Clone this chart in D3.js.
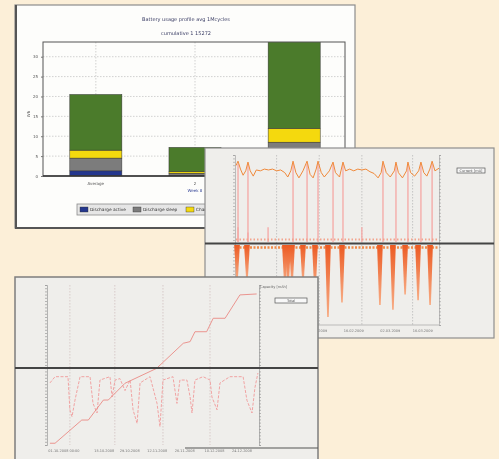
<!DOCTYPE html>
<html>
<head>
<meta charset="utf-8">
<script src="https://cdn.jsdelivr.net/npm/d3@7"></script>
<style>
  body { margin: 0; background: #fcefd8; }
  svg { display: block; filter: blur(0.4px); }
  text { font-family: "DejaVu Sans", sans-serif; }
</style>
</head>
<body>
<div id="chart"></div>
<script>
// ---- Bar chart data (Wh per category)
var barCats = ["Average", "2", "3"];
var barSub = ["", "Week 8", ""];
var seriesNames = ["Discharge active", "Discharge sleep", "Charge", "Idle"];
var seriesColors = ["#24378e", "#7c7c7c", "#f4d90e", "#4b7b2b"];
var dischargeActive = [1.3, 0.1, 1.5];
var dischargeSleep = [3.2, 0.6, 7.0];
var charge = [2.0, 0.4, 3.5];
var idle = [14.0, 6.1, 22.0];
var barTicks = [0, 5, 10, 15, 20, 25, 30];

// ---- Current trace (panel 2), x in % of time span
var upperTopLine = [[0,88],[1,93],[2.2,84],[3.5,77],[4.8,82],[5.9,92],[7,82],[8.5,76],[10,83],[12,82],[14,84],[16,83],
  [18,84],[20,82],[22,83],[24,80],[25.5,75],[27,82],[28.1,93],[29.5,80],[31,74],[33,82],[35,93],[36.5,78],[38,74],
  [39.5,84],[40.4,93],[42,80],[43.5,75],[46,82],[47.8,92],[49,80],[51,75],[52.7,92],[54,82],[56,84],[58,82],[60,84],
  [62,83],[64,84],[66,81],[68,79],[70,74],[71.5,80],[72.4,93],[74,80],[76,75],[78,82],[78.8,92],[80,80],[82,74],
  [84,82],[84.7,92],[86,80],[88,76],[90,82],[91.1,92],[92.5,80],[94,76],[95.5,84],[96.6,93],[98,82],[100,85]];
var upperSpikeX = [1, 5.9, 28.1, 35, 40.4, 47.8, 52.7, 72.4, 78.8, 84.7, 91.1, 96.6];
var upperBumps = [[1, 18], [5.9, 12], [15.8, 18], [62, 18]];
var lowerSpikeX = [0.5, 5.4, 24.1, 25.6, 27.6, 33, 38.9, 45.3, 52.2, 70.9, 77.3, 83.3, 89.7, 95.6];
var lowerSpikeDepth = [44, 44, 50, 52, 48, 46, 56, 90, 72, 75, 81, 62, 69, 75];
var grid2 = [20, 41, 62, 87];
var dates2 = ["05.01.2009", "19.01.2009", "02.02.2009", "16.02.2009", "02.03.2009", "16.03.2009"];
var datePos2 = [5, 22, 40, 58, 76, 92];

// ---- Cumulative trace (panel 3)
var cumulative = [[1.4,1.1],[3.8,1.1],[16.4,15.6],[19.5,15.6],[26.6,28.1],[28.9,28.1],[36.8,38.6],[51.7,47.9],
  [64.3,63.6],[67.5,64.6],[69.8,70.8],[75.3,70.8],[78.4,79.2],[84,79.2],[91,93.8],[98.9,94.4]];
var levelTrace = [[1.4,38.8],[3.8,42.7],[9.9,42.7],[10.8,21.9],[11.8,17.7],[13.2,28],[15.6,42.7],[20.3,42.7],
  [21.7,26],[23.6,20],[25,40.6],[29.7,42.7],[30.7,30],[32.1,40.6],[34.4,41.5],[36.8,34],[39.2,40.6],[40.6,21.9],
  [42.5,13.5],[43.9,38.8],[48.6,42.7],[51.9,26],[53.3,11.5],[54.7,40.6],[59.4,42.7],[61.3,26],[62.7,40.6],
  [66,40.6],[67.5,30],[68.4,20],[69.8,40.6],[73.6,42.7],[76.9,40.6],[77.8,30],[80.2,22],[81.6,38.8],[86.3,42.7],
  [92.5,42.7],[94.3,28],[96.7,20],[98.1,36],[99.5,45]];
var grid3 = [10.8, 32, 54.7, 76.9];
var dates3 = ["01.10.2008 00:00", "15.10.2008", "29.10.2008", "12.11.2008", "26.11.2008", "10.12.2008", "24.12.2008"];
var datePos3 = [8, 27, 39, 52, 65, 79, 92];

var svg = d3.select('#chart')
  .append('svg')
  .attr('width', 499)
  .attr('height', 459);

svg.append('rect')
  .attr('width', 499)
  .attr('height', 459)
  .attr('fill', '#fcefd8');

// ================= Panel 1: stacked bars
var p1 = svg.append('g');
p1.append('rect')
  .attr('x', 15).attr('y', 5).attr('width', 340).attr('height', 223)
  .attr('fill', '#fdfdfb').attr('stroke', '#8c8c8c').attr('stroke-width', 1.2);
p1.append('path')
  .attr('d', 'M16,5V228H355')
  .attr('fill', 'none').attr('stroke', '#555').attr('stroke-width', 2);

p1.append('text').attr('x', 186).attr('y', 21).attr('text-anchor', 'middle')
  .style('font-size', '5px').attr('fill', '#3c3f66')
  .text('Battery usage profile avg 1Mcycles');
p1.append('text').attr('x', 186).attr('y', 35).attr('text-anchor', 'middle')
  .style('font-size', '5px').attr('fill', '#3c3f66')
  .text('cumulative 1 15272');

var xBar = d3.scaleBand().domain(barCats).range([46, 344]).paddingInner(0.475).paddingOuter(0.24);
var yBar = d3.scaleLinear().domain([0, 33.7]).range([176, 42]);

// grid
p1.selectAll('.hgrid')
  .data(barTicks.slice(1))
  .enter().append('line')
  .attr('x1', 43).attr('x2', 345)
  .attr('y1', (d) => yBar(d)).attr('y2', (d) => yBar(d))
  .attr('stroke', '#b5b5b5').attr('stroke-width', 0.6).attr('stroke-dasharray', '1.5,1.5');
p1.selectAll('.vgrid')
  .data(barCats)
  .enter().append('line')
  .attr('x1', (d) => xBar(d) + xBar.bandwidth() / 2).attr('x2', (d) => xBar(d) + xBar.bandwidth() / 2)
  .attr('y1', 42).attr('y2', 176)
  .attr('stroke', '#b5b5b5').attr('stroke-width', 0.6).attr('stroke-dasharray', '1.5,1.5');

var table = barCats.map((c, i) => ({
  cat: c, "Discharge active": dischargeActive[i], "Discharge sleep": dischargeSleep[i],
  "Charge": charge[i], "Idle": idle[i]
}));
var stacked = d3.stack().keys(seriesNames)(table);

svg.append('clipPath').attr('id', 'barclip')
  .append('rect').attr('x', 43).attr('y', 42).attr('width', 302).attr('height', 134);

p1.append('g').attr('clip-path', 'url(#barclip)')
  .selectAll('g')
  .data(stacked)
  .enter().append('g')
  .attr('fill', (d, i) => seriesColors[i])
  .selectAll('rect')
  .data((d) => d)
  .enter().append('rect')
  .attr('x', (d) => xBar(d.data.cat))
  .attr('width', xBar.bandwidth())
  .attr('y', (d) => yBar(d[1]))
  .attr('height', (d) => yBar(d[0]) - yBar(d[1]))
  .attr('stroke', '#333').attr('stroke-width', 0.5);

p1.append('rect')
  .attr('x', 43).attr('y', 42).attr('width', 302).attr('height', 134)
  .attr('fill', 'none').attr('stroke', '#555').attr('stroke-width', 1);
p1.append('line').attr('x1', 43).attr('x2', 345).attr('y1', 176).attr('y2', 176)
  .attr('stroke', '#333').attr('stroke-width', 1.4);

var yAxisBar = p1.append('g')
  .attr('transform', 'translate(43,0)')
  .call(d3.axisLeft(yBar).tickValues(barTicks).tickSize(2).tickPadding(3));
yAxisBar.select('.domain').remove();
yAxisBar.selectAll('text').style('font-size', '4px').attr('fill', '#555');
yAxisBar.selectAll('line').attr('stroke', '#777');

p1.append('text')
  .attr('transform', 'translate(30,114) rotate(-90)')
  .attr('text-anchor', 'middle').style('font-size', '4px').attr('fill', '#555')
  .text('Wh');

p1.selectAll('.xlab')
  .data(barCats)
  .enter().append('text')
  .attr('x', (d) => xBar(d) + xBar.bandwidth() / 2)
  .attr('y', 185)
  .attr('text-anchor', 'middle').style('font-size', '4px').attr('fill', '#555')
  .text((d) => d);
p1.selectAll('.xsub')
  .data(barCats)
  .enter().append('text')
  .attr('x', (d) => xBar(d) + xBar.bandwidth() / 2)
  .attr('y', 192)
  .attr('text-anchor', 'middle').style('font-size', '4px').attr('fill', '#3a4a9a')
  .text((d, i) => barSub[i]);

// legend
p1.append('rect')
  .attr('x', 77).attr('y', 204).attr('width', 200).attr('height', 11)
  .attr('fill', '#e6e6e6').attr('stroke', '#8a8a8a').attr('stroke-width', 0.8);
var legendX = [80, 133, 186, 230];
var leg = p1.selectAll('.legend')
  .data(seriesNames)
  .enter().append('g')
  .attr('transform', (d, i) => `translate(${legendX[i]}, 207)`);
leg.append('rect').attr('width', 8).attr('height', 5)
  .attr('fill', (d, i) => seriesColors[i]).attr('stroke', '#333').attr('stroke-width', 0.4);
leg.append('text').attr('x', 10).attr('y', 4.3)
  .style('font-size', '4.3px').attr('fill', '#333')
  .text((d) => d);

// ================= Panel 2: current trace
var p2 = svg.append('g');
p2.append('rect')
  .attr('x', 205).attr('y', 148).attr('width', 289).attr('height', 190)
  .attr('fill', '#efeeeb').attr('stroke', '#8e8e8e').attr('stroke-width', 1.2);

var x2 = d3.scaleLinear().domain([0, 100]).range([236, 439]);
var yUp = d3.scaleLinear().domain([0, 100]).range([243, 155]);
var yLow = d3.scaleLinear().domain([0, 100]).range([245, 325]);
var yAx2 = d3.scaleLinear().domain([0, 100]).range([325, 155]);

p2.selectAll('.grid2')
  .data(grid2)
  .enter().append('line')
  .attr('x1', (d) => x2(d)).attr('x2', (d) => x2(d))
  .attr('y1', 155).attr('y2', 325)
  .attr('stroke', '#aaa').attr('stroke-width', 0.6).attr('stroke-dasharray', '1.5,1.5');

p2.append('g').attr('transform', 'translate(235,0)')
  .call(d3.axisLeft(yAx2).ticks(40).tickSize(2).tickFormat(''));
p2.append('g').attr('transform', 'translate(439,0)')
  .call(d3.axisRight(yAx2).ticks(40).tickSize(2).tickFormat(''));
p2.selectAll('.domain, .tick line').attr('stroke', '#999').attr('stroke-width', 0.6);
p2.append('line').attr('x1', 235).attr('x2', 439).attr('y1', 325).attr('y2', 325)
  .attr('stroke', '#999').attr('stroke-width', 0.6);

// upper pink spikes
p2.selectAll('.uspike')
  .data(upperSpikeX)
  .enter().append('line')
  .attr('x1', (d) => x2(d)).attr('x2', (d) => x2(d))
  .attr('y1', yUp(90)).attr('y2', yUp(1))
  .attr('stroke', '#f5a7a4').attr('stroke-width', 1.3);
p2.selectAll('.ubump')
  .data(upperBumps)
  .enter().append('line')
  .attr('x1', (d) => x2(d[0])).attr('x2', (d) => x2(d[0]))
  .attr('y1', (d) => yUp(d[1])).attr('y2', yUp(1))
  .attr('stroke', '#f5a7a4').attr('stroke-width', 1.3);
p2.append('line')
  .attr('x1', x2(0)).attr('x2', x2(100)).attr('y1', yUp(4)).attr('y2', yUp(4))
  .attr('stroke', '#f3a48e').attr('stroke-width', 2.2).attr('stroke-dasharray', '1.5,2');

p2.append('path')
  .datum(upperTopLine)
  .attr('fill', 'none').attr('stroke', '#f0893a').attr('stroke-width', 1)
  .attr('d', d3.line().x((d) => x2(d[0])).y((d) => yUp(d[1])));

// lower orange spikes
var grad = svg.append('defs').append('linearGradient')
  .attr('id', 'spikegrad').attr('x1', 0).attr('x2', 0).attr('y1', 0).attr('y2', 1);
grad.append('stop').attr('offset', '0%').attr('stop-color', '#ec5a22');
grad.append('stop').attr('offset', '100%').attr('stop-color', '#f7ad86');

p2.append('line')
  .attr('x1', x2(0)).attr('x2', x2(100)).attr('y1', yLow(3)).attr('y2', yLow(3))
  .attr('stroke', '#f08a48').attr('stroke-width', 2.5).attr('stroke-dasharray', '2,1.5');

p2.selectAll('.lspike')
  .data(lowerSpikeX)
  .enter().append('path')
  .attr('fill', 'url(#spikegrad)')
  .attr('d', (d, i) => 'M' + x2(d - 1.4) + ',' + yLow(0) + 'L' + x2(d + 1.4) + ',' + yLow(0)
    + 'L' + x2(d + 0.4) + ',' + yLow(lowerSpikeDepth[i]) + 'L' + x2(d - 0.4) + ',' + yLow(lowerSpikeDepth[i]) + 'Z');

p2.append('line').attr('x1', 205).attr('x2', 494).attr('y1', 243.5).attr('y2', 243.5)
  .attr('stroke', '#444').attr('stroke-width', 1.8);

p2.append('rect').attr('x', 457).attr('y', 168).attr('width', 28).attr('height', 5)
  .attr('fill', '#f8f8f8').attr('stroke', '#555').attr('stroke-width', 0.7);
p2.append('text').attr('x', 471).attr('y', 172).attr('text-anchor', 'middle')
  .style('font-size', '3.5px').attr('fill', '#555').text('Current [mA]');

p2.selectAll('.date2')
  .data(dates2)
  .enter().append('text')
  .attr('x', (d, i) => x2(datePos2[i])).attr('y', 332)
  .attr('text-anchor', 'middle').style('font-size', '3.5px').attr('fill', '#777')
  .text((d) => d);

// ================= Panel 3: cumulative trace
var p3 = svg.append('g');
p3.append('rect')
  .attr('x', 15).attr('y', 277).attr('width', 303).attr('height', 195)
  .attr('fill', '#efeeeb').attr('stroke', '#7e7e7e').attr('stroke-width', 1.5);

var x3 = d3.scaleLinear().domain([0, 100]).range([47, 259]);
var y3 = d3.scaleLinear().domain([0, 100]).range([445, 285]);

p3.selectAll('.grid3')
  .data(grid3)
  .enter().append('line')
  .attr('x1', (d) => x3(d)).attr('x2', (d) => x3(d))
  .attr('y1', 285).attr('y2', 445)
  .attr('stroke', '#c9b3b3').attr('stroke-width', 0.6).attr('stroke-dasharray', '1.5,1.5');

p3.append('g').attr('transform', 'translate(47,0)')
  .call(d3.axisLeft(y3).ticks(40).tickSize(2).tickFormat(''));
p3.append('g').attr('transform', 'translate(259,0)')
  .call(d3.axisRight(y3).ticks(40).tickSize(2).tickFormat(''));
p3.selectAll('.domain, .tick line').attr('stroke', '#999').attr('stroke-width', 0.7);

p3.append('path')
  .datum(levelTrace)
  .attr('fill', 'none').attr('stroke', '#f09a9a').attr('stroke-width', 0.9).attr('stroke-dasharray', '3,1.5')
  .attr('d', d3.line().x((d) => x3(d[0])).y((d) => y3(d[1])));

p3.append('path')
  .datum(cumulative)
  .attr('fill', 'none').attr('stroke', '#ea8a84').attr('stroke-width', 0.9)
  .attr('d', d3.line().x((d) => x3(d[0])).y((d) => y3(d[1])));

p3.append('line').attr('x1', 15).attr('x2', 318).attr('y1', 368).attr('y2', 368)
  .attr('stroke', '#444').attr('stroke-width', 1.8);

p3.append('text').attr('x', 260).attr('y', 287.5)
  .style('font-size', '3.5px').attr('fill', '#666').text('Capacity [mAh]');
p3.append('rect').attr('x', 275).attr('y', 298).attr('width', 32).attr('height', 5)
  .attr('fill', '#f8f8f8').attr('stroke', '#555').attr('stroke-width', 0.7);
p3.append('text').attr('x', 291).attr('y', 302).attr('text-anchor', 'middle')
  .style('font-size', '3.5px').attr('fill', '#555').text('Total');

p3.selectAll('.date3')
  .data(dates3)
  .enter().append('text')
  .attr('x', (d, i) => x3(datePos3[i])).attr('y', 452)
  .attr('text-anchor', 'middle').style('font-size', '3.5px').attr('fill', '#777')
  .text((d) => d);

p3.append('line').attr('x1', 185).attr('x2', 318).attr('y1', 448).attr('y2', 448)
  .attr('stroke', '#555').attr('stroke-width', 1.2);
</script>
</body>
</html>
